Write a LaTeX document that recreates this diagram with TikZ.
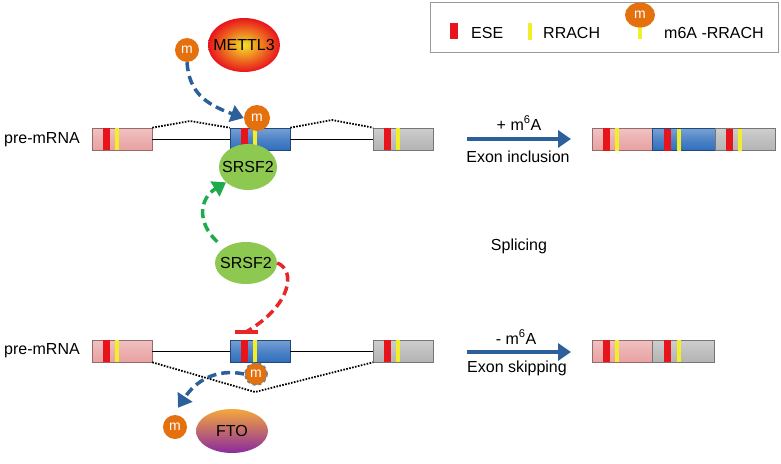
\documentclass[tikz,border=0pt]{standalone}
\usepackage{fontspec}
\setmainfont{Liberation Sans}
\usetikzlibrary{arrows.meta,shapes.geometric}
\definecolor{expink}{HTML}{E8A2A2}
\definecolor{exblue}{HTML}{2F6EBD}
\definecolor{exgray}{HTML}{B4B4B4}
\definecolor{esered}{HTML}{E8141C}
\definecolor{rrachy}{HTML}{F2EE2A}
\definecolor{morange}{HTML}{E4700E}
\definecolor{srgreen}{HTML}{8DC850}
\definecolor{arrblue}{HTML}{2D5F9A}
\definecolor{arrgreen}{HTML}{1FAA4B}
\definecolor{arrred}{HTML}{E8262A}
\definecolor{ftotop}{HTML}{F5A83C}
\definecolor{ftobot}{HTML}{8A2A9E}
\newcommand\mystripes[1]{%
  \fill[esered] ([xshift=11pt]#1.north west) rectangle ([xshift=18pt]#1.south west);
  \fill[rrachy] ([xshift=23pt]#1.north west) rectangle ([xshift=27pt]#1.south west);}
\begin{document}
\begin{tikzpicture}[x=1pt,y=-1pt,
  every node/.style={font=\fontsize{16}{19}\selectfont},
  exon/.style={draw=#1!65!black, line width=0.6pt, minimum width=60pt, minimum height=22pt,
     inner sep=0pt, top color=#1!65!white, bottom color=#1, middle color=#1!85!white},
  mball/.style={circle, fill=morange, text=white, minimum size=24pt, inner sep=0pt,
     font=\fontsize{14}{16}\selectfont},
  blob/.style={ellipse, inner ysep=0pt},
  intron/.style={line width=1pt},
  spl/.style={dash pattern=on 1.6pt off 1.4pt, line width=1.8pt},
  dasharr/.style={line width=3.5pt, dash pattern=on 9pt off 5pt},
  bigtip/.style={-{Triangle[length=13pt,width=17pt]}},
  resarr/.style={line width=4.5pt, arrblue, -{Triangle[length=13pt,width=17pt]}},
  lbl/.style={inner sep=0pt}]
\useasboundingbox (0,0) rectangle (781,463);

% legend
\node[draw=gray!80, line width=1pt, minimum width=348pt, minimum height=50pt, inner sep=0pt] (leg) at (604,27) {};
\fill[esered] (450,23) rectangle (458,39);
\fill[rrachy] (528,23) rectangle (532,40);
\node[lbl, anchor=west] (tese) at (471,33) {ESE};
\node[lbl, anchor=west] (trr) at (543,33) {RRACH};
\fill[rrachy] (638,26) rectangle (642,39);
\node[ellipse, fill=morange, text=white, minimum width=30pt, minimum height=25pt, inner sep=0pt,
  font=\fontsize{14}{16}\selectfont] (lm) at (640,15) {m};
\node[lbl, anchor=west] (tm6) at (664,33) {m6A -RRACH};

% top pre-mRNA
\node[lbl, anchor=west] (pre1) at (4,140) {pre-mRNA};
\coordinate (pk1) at (190,121);
\coordinate (pk2) at (332,120);
\node[exon=expink] (p1) at (122,139) {};
\node[exon=exblue] (b1) at (260,139) {};
\node[exon=exgray] (g1) at (403.5,139) {};
\draw[intron] (p1.east) -- (b1.west);
\draw[intron] (b1.east) -- (g1.west);
\draw[spl] (p1.north east) -- (pk1) -- (b1.north west);
\draw[spl] (b1.north east) -- (pk2) -- (g1.north west);
\mystripes{p1}\mystripes{b1}\mystripes{g1}

\node[blob, inner xsep=-6.5pt, shading=radial, inner color=rrachy!90!orange, outer color=esered, minimum width=72pt, minimum height=54pt] (mettl) at (244,45) {METTL3};
\node[mball] (m1) at (187,50) {m};
\node[mball, minimum size=26pt] (m2) at (257,118) {m};
\node[blob, inner xsep=-6pt, fill=srgreen, minimum width=58pt, minimum height=46pt] (s1) at (248,167) {SRSF2};
\draw[dasharr, arrblue, bigtip] (m1.south) .. controls (189,92) and (205,104) .. (m2.west);

% middle
\node[blob, inner xsep=-4.6pt, fill=srgreen, minimum width=62pt, minimum height=42pt] (s2) at (246,263) {SRSF2};
\draw[dasharr, arrgreen, bigtip] (s2.145) ++(-7,-6) coordinate (gs) (gs) .. controls (196,222) and (200,198) .. (s1.215);
\coordinate (tb) at (246,332);
\draw[dasharr, arrred] (s2.east) .. controls (296,270) and (292,305) .. (tb);
\draw[arrred, line width=3.5pt] ([xshift=-11pt]tb) -- ([xshift=12pt]tb);
\node[lbl] (spl) at (519,246) {Splicing};

% bottom pre-mRNA
\node[lbl, anchor=west] (pre2) at (4,351) {pre-mRNA};
\coordinate (vl) at (255,392);
\node[exon=expink] (p2) at (122,351) {};
\node[exon=exblue] (b2) at (260,351) {};
\node[exon=exgray] (g2) at (403.5,351) {};
\draw[intron] (p2.east) -- (b2.west);
\draw[intron] (b2.east) -- (g2.west);
\draw[spl] (p2.south east) -- (vl) -- (g2.south west);
\mystripes{p2}\mystripes{b2}\mystripes{g2}
\node[mball, draw=gray, dashed, line width=1.8pt, minimum size=22pt] (m3) at (256,374) {m};
\node[mball] (m4) at (175,427) {m};
\node[blob, top color=ftotop, bottom color=ftobot, minimum width=72pt, minimum height=44pt] (fto) at (232,431) {FTO};
\draw[dasharr, arrblue, bigtip] (m3.west) .. controls (215,368) and (195,382) .. ([shift={(3,-7)}]m4.north);

% results
\coordinate (a1s) at (467,139);
\coordinate (a1e) at (571,139);
\draw[resarr] (a1s) -- (a1e);
\node[lbl] (plus) at (519,123) {+ m\textsuperscript{6}A};
\node[lbl] (incl) at (518,157) {Exon inclusion};
\coordinate (a2s) at (467,352);
\coordinate (a2e) at (571,352);
\draw[resarr] (a2s) -- (a2e);
\node[lbl] (minus) at (516,337) {- m\textsuperscript{6}A};
\node[lbl] (skip) at (517,368) {Exon skipping};

\node[exon=expink] (rp1) at (622,139.5) {};
\node[exon=exblue, minimum width=63pt] (rb1) at (683.5,139.5) {};
\node[exon=exgray] (rg1) at (745,139.5) {};
\mystripes{rp1}
\fill[esered] (664,128.5) rectangle (671,150.5);
\fill[rrachy] (677,128.5) rectangle (681,150.5);
\fill[esered] (726,128.5) rectangle (733,150.5);
\fill[rrachy] (738,128.5) rectangle (742,150.5);

\node[exon=expink] (rp2) at (622,351) {};
\node[exon=exgray, minimum width=62pt] (rg2) at (683,351) {};
\mystripes{rp2}
\fill[esered] (664,340) rectangle (671,362);
\fill[rrachy] (677,340) rectangle (681,362);
\end{tikzpicture}
\end{document}
